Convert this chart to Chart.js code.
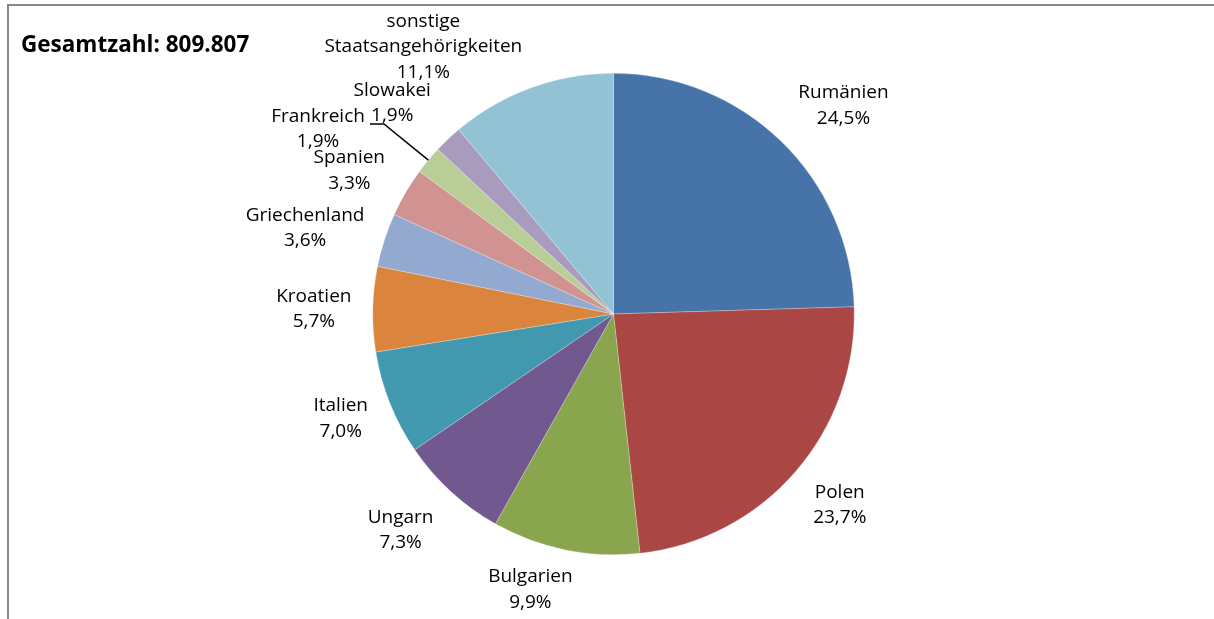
<!DOCTYPE html>
<html>
<head>
<meta charset="utf-8">
<script src="https://cdn.jsdelivr.net/npm/chart.js@4"></script>
<style>
    html, body { margin: 0; padding: 0; background: #fff; }
    #wrap { width: 1214px; height: 619px; position: relative; }
</style>
</head>
<body>
<div id="wrap"><canvas id="pieChart" width="1214" height="619"></canvas></div>
<script>
// Anteile nach Staatsangehörigkeit (in %)
const countries = ['Rumänien', 'Polen', 'Bulgarien', 'Ungarn', 'Italien', 'Kroatien',
    'Griechenland', 'Spanien', 'Frankreich', 'Slowakei', 'sonstige Staatsangehörigkeiten'];
const shares = [24.5, 23.7, 9.9, 7.3, 7.0, 5.7, 3.6, 3.3, 1.9, 1.9, 11.1];
const totalLabel = 'Gesamtzahl: 809.807';

const sliceColors = ['#4674A8', '#AA4644', '#89A54E', '#71588F', '#4198AF', '#DB843D',
    '#93A9CF', '#D19392', '#B9CD96', '#A99BBD', '#92C3D4'];

// label text split into lines
const labelLines = [
    ['Rumänien'], ['Polen'], ['Bulgarien'], ['Ungarn'], ['Italien'], ['Kroatien'],
    ['Griechenland'], ['Spanien'], ['Frankreich'], ['Slowakei'], ['sonstige', 'Staatsangehörigkeiten']
];
// nudges from the default label spot (outside the rim, along the mid angle)
const labelNudge = [[24, 4], [3, -3], [-24, -14], [-13, -2], [2, -5], [-4, 1],
    [-27, 5], [-9, 6], [-68, 4], [-18, 4], [-89, 11]];
const leaderLines = [8];

const FONT = '"Open Sans", "Liberation Sans", sans-serif';
const LINE_H = 25.5;

function pct(v) {
    return v.toFixed(1).replace('.', ',') + '%';
}

const framePlugin = {
    id: 'frame',
    beforeDraw(chart) {
        const c = chart.ctx;
        c.save();
        c.strokeStyle = '#878787';
        c.lineWidth = 2;
        c.beginPath();
        c.moveTo(8, 619);
        c.lineTo(8, 5);
        c.lineTo(1214, 5);
        c.stroke();

        c.fillStyle = '#000';
        c.font = 'bold 22.5px ' + FONT;
        c.textBaseline = 'middle';
        c.textAlign = 'left';
        c.fillText(totalLabel, 21, 46);
        c.restore();
    }
};

const labelPlugin = {
    id: 'outerLabels',
    afterDatasetsDraw(chart) {
        const c = chart.ctx;
        const arcs = chart.getDatasetMeta(0).data;
        c.save();
        c.fillStyle = '#000';
        c.font = '19px ' + FONT;
        c.textAlign = 'center';
        c.textBaseline = 'middle';
        arcs.forEach((arc, i) => {
            const p = arc.getProps(['x', 'y', 'startAngle', 'endAngle', 'outerRadius'], true);
            const mid = (p.startAngle + p.endAngle) / 2;
            const r = p.outerRadius + 55;
            const cx = p.x + Math.cos(mid) * r + labelNudge[i][0];
            const cy = p.y + Math.sin(mid) * r + labelNudge[i][1];
            const lines = labelLines[i].concat([pct(shares[i])]);
            const top = cy - (lines.length - 1) * LINE_H / 2;
            lines.forEach((t, k) => c.fillText(t, cx, top + k * LINE_H));

            if (leaderLines.includes(i)) {
                const ex = p.x + Math.cos(mid) * p.outerRadius;
                const ey = p.y + Math.sin(mid) * p.outerRadius;
                const sx = cx + c.measureText(lines[0]).width / 2 + 5;
                c.strokeStyle = '#000';
                c.lineWidth = 1.5;
                c.beginPath();
                c.moveTo(sx, cy - 5);
                c.lineTo(sx + 14, cy - 5);
                c.lineTo(ex, ey);
                c.stroke();
            }
        });
        c.restore();
    }
};

new Chart(document.getElementById('pieChart'), {
    type: 'pie',
    data: {
        labels: countries,
        datasets: [{
            data: shares,
            backgroundColor: sliceColors,
            borderColor: 'rgba(255,255,255,0.5)',
            borderWidth: 0.5,
            hoverOffset: 0
        }]
    },
    options: {
        responsive: false,
        animation: false,
        layout: { padding: { top: 73, bottom: 64, left: 372, right: 359 } },
        plugins: {
            legend: { display: false },
            tooltip: { enabled: false }
        }
    },
    plugins: [framePlugin, labelPlugin]
});
</script>
</body>
</html>
